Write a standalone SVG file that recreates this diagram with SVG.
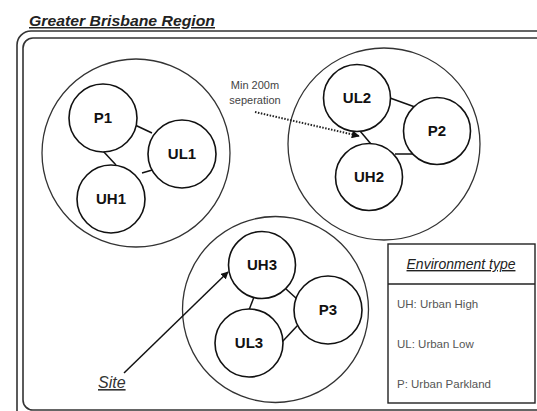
<svg xmlns="http://www.w3.org/2000/svg" width="537" height="411" viewBox="0 0 537 411">
<style>
.frame{fill:none;stroke:#333;stroke-width:1.6}
.zone{fill:none;stroke:#333;stroke-width:1.3}
.node{fill:#fff;stroke:#111;stroke-width:1.6}
.lbl{font-family:"Liberation Sans",Arial,sans-serif;font-weight:bold;font-size:15px;fill:#111;text-anchor:middle}
.edge{stroke:#111;stroke-width:1.5;fill:none}
.note{font-family:"Liberation Sans",Arial,sans-serif;font-size:11px;fill:#444;text-anchor:middle}
.leg{font-family:"Liberation Sans",Arial,sans-serif;font-size:11.5px;fill:#555}
</style>
<defs>
<marker id="ah" viewBox="0 0 10 10" refX="9" refY="5" markerWidth="5" markerHeight="5" orient="auto" markerUnits="strokeWidth">
<path d="M0,0 L10,5 L0,10 z" fill="#111"/>
</marker>
<marker id="ah2" viewBox="0 0 10 10" refX="9" refY="5" markerWidth="4" markerHeight="4" orient="auto" markerUnits="strokeWidth">
<path d="M0,0 L10,5 L0,10 z" fill="#111"/>
</marker>
</defs>
<rect width="537" height="411" fill="#fff"/>
<g id="region">
<rect class="frame" x="17" y="31" width="540" height="395" rx="14"/>
<rect class="frame" x="23" y="38" width="530" height="372" rx="10"/>
<text x="29" y="26" font-family="'Liberation Sans',Arial,sans-serif" font-size="15" font-weight="bold" font-style="italic" fill="#222" text-decoration="underline" textLength="186" lengthAdjust="spacingAndGlyphs">Greater Brisbane Region</text>
</g>
<g id="zones">
<circle class="zone" cx="136" cy="153" r="94"/>
<circle class="zone" cx="384" cy="144" r="96"/>
<circle class="zone" cx="275.5" cy="309.5" r="93"/>
</g>
<g id="connectors">
<line class="edge" x1="135" y1="125" x2="152" y2="133"/>
<line class="edge" x1="103" y1="151" x2="116" y2="165"/>
<line class="edge" x1="142" y1="173" x2="159" y2="168"/>
<line class="edge" x1="390" y1="98" x2="415" y2="107"/>
<line class="edge" x1="360" y1="131" x2="371" y2="144"/>
<line class="edge" x1="395" y1="154" x2="414" y2="154"/>
<line class="edge" x1="254" y1="297" x2="249" y2="310"/>
<line class="edge" x1="286" y1="289" x2="297" y2="299"/>
<line class="edge" x1="282" y1="342" x2="298" y2="325"/>
<line x1="255" y1="112" x2="359" y2="136" stroke="#222" stroke-width="2" stroke-dasharray="1.5,1.5" marker-end="url(#ah2)"/>
<line x1="124" y1="373" x2="228" y2="272" stroke="#111" stroke-width="1.5" marker-end="url(#ah)"/>
</g>
<g id="P1"><circle class="node" cx="103" cy="118" r="34"/><text class="lbl" x="103" y="123">P1</text></g>
<g id="UL1"><circle class="node" cx="182" cy="154" r="34"/><text class="lbl" x="182" y="159">UL1</text></g>
<g id="UH1"><circle class="node" cx="111" cy="199" r="34"/><text class="lbl" x="111" y="204">UH1</text></g>
<g id="UL2"><circle class="node" cx="357" cy="98" r="33.5"/><text class="lbl" x="357" y="103">UL2</text></g>
<g id="P2"><circle class="node" cx="437" cy="131" r="33.5"/><text class="lbl" x="437" y="136">P2</text></g>
<g id="UH2"><circle class="node" cx="369" cy="177" r="33.5"/><text class="lbl" x="369" y="182">UH2</text></g>
<g id="UH3"><circle class="node" cx="262" cy="265" r="33.5"/><text class="lbl" x="262" y="270">UH3</text></g>
<g id="P3"><circle class="node" cx="328" cy="310" r="34"/><text class="lbl" x="328" y="315">P3</text></g>
<g id="UL3"><circle class="node" cx="249" cy="343" r="34"/><text class="lbl" x="249" y="348">UL3</text></g>
<g id="note">
<text class="note" x="255" y="89">Min 200m</text>
<text class="note" x="255" y="104">seperation</text>
</g>
<g id="site">
<text x="98" y="388" font-family="'Liberation Sans',Arial,sans-serif" font-size="16" font-style="italic" fill="#333" text-decoration="underline">Site</text>
</g>
<g id="legend">
<rect x="388" y="244" width="147" height="159" fill="#fff" stroke="#222" stroke-width="1.4"/>
<line x1="388" y1="284" x2="535" y2="284" stroke="#222" stroke-width="1.4"/>
<text x="461" y="269" font-family="'Liberation Sans',Arial,sans-serif" font-size="14" font-style="italic" fill="#222" text-anchor="middle" text-decoration="underline">Environment type</text>
<text class="leg" x="397" y="308">UH: Urban High</text>
<text class="leg" x="397" y="348">UL: Urban Low</text>
<text class="leg" x="397" y="388">P: Urban Parkland</text>
</g>
</svg>
